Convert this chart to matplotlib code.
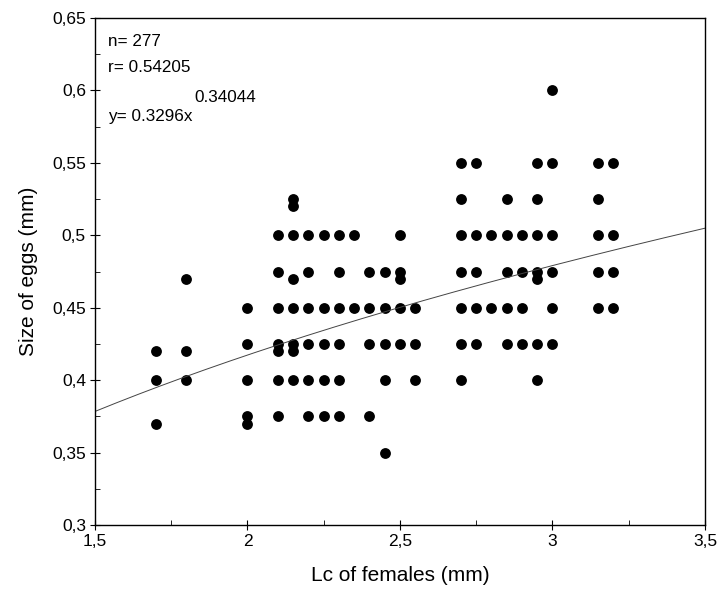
import matplotlib
matplotlib.use("Agg")
import matplotlib.pyplot as plt
import numpy as np
from matplotlib.ticker import FuncFormatter, MultipleLocator, AutoMinorLocator

plt.rcParams['font.family'] = ['Liberation Sans', 'DejaVu Sans']

# carapace length of females (mm) -> egg sizes observed (mm)
lc_females = [1.7, 1.8, 2.0, 2.1, 2.15, 2.2, 2.25, 2.3, 2.35, 2.4, 2.45, 2.5, 2.55,
              2.7, 2.75, 2.8, 2.85, 2.9, 2.95, 3.0, 3.15, 3.2]
egg_sizes = [
    [0.42, 0.40, 0.37],
    [0.47, 0.42, 0.40],
    [0.45, 0.425, 0.40, 0.375, 0.37],
    [0.50, 0.475, 0.45, 0.425, 0.42, 0.40, 0.375],
    [0.525, 0.52, 0.50, 0.47, 0.45, 0.425, 0.42, 0.40],
    [0.50, 0.475, 0.45, 0.425, 0.40, 0.375],
    [0.50, 0.45, 0.425, 0.40, 0.375],
    [0.50, 0.475, 0.45, 0.425, 0.40, 0.375],
    [0.50, 0.45],
    [0.475, 0.45, 0.425, 0.375],
    [0.475, 0.45, 0.425, 0.40, 0.35],
    [0.50, 0.475, 0.47, 0.45, 0.425],
    [0.45, 0.425, 0.40],
    [0.55, 0.525, 0.50, 0.475, 0.45, 0.425, 0.40],
    [0.55, 0.50, 0.475, 0.45, 0.425],
    [0.50, 0.45],
    [0.525, 0.50, 0.475, 0.45, 0.425],
    [0.50, 0.475, 0.45, 0.425],
    [0.55, 0.525, 0.50, 0.475, 0.47, 0.425, 0.40],
    [0.60, 0.55, 0.50, 0.475, 0.45, 0.425],
    [0.55, 0.525, 0.50, 0.475, 0.45],
    [0.55, 0.50, 0.475, 0.45],
]

# power fit y = a * x^b
fit_a = 0.3296
fit_b = 0.34044
n_obs = 277
r_value = 0.54205

xs = []
ys = []
for lc, sizes in zip(lc_females, egg_sizes):
    for s in sizes:
        xs.append(lc)
        ys.append(s)

fig = plt.figure(figsize=(7.19, 5.91), dpi=100)
ax = fig.add_axes([0.1321, 0.1117, 0.8484, 0.8578])

ax.plot(xs, ys, 'o', color='black', markersize=7.8, markeredgewidth=0)

xfit = np.linspace(1.5, 3.5, 200)
ax.plot(xfit, fit_a * xfit ** fit_b, color='#444444', linewidth=0.7)

ax.set_xlim(1.5, 3.5)
ax.set_ylim(0.3, 0.65)
ax.xaxis.set_major_locator(MultipleLocator(0.5))
ax.yaxis.set_major_locator(MultipleLocator(0.05))
ax.xaxis.set_minor_locator(AutoMinorLocator(2))
ax.yaxis.set_minor_locator(AutoMinorLocator(2))

def virgule(v, pos):
    s = ('%.2f' % v).rstrip('0').rstrip('.')
    return s.replace('.', ',')

ax.xaxis.set_major_formatter(FuncFormatter(virgule))
ax.yaxis.set_major_formatter(FuncFormatter(virgule))

ax.tick_params(which='major', direction='inout', length=7, width=0.8, labelsize=12.5, pad=3)
ax.tick_params(which='minor', direction='in', length=3.5, width=0.6)
for sp in ax.spines.values():
    sp.set_linewidth(1.0)

ax.set_xlabel('Lc of females (mm)', fontsize=15, labelpad=12)
ax.set_ylabel('Size of eggs (mm)', fontsize=15, labelpad=10)

# fit statistics, exponent written as raised text after the formula
ax.text(0.021, 0.953, 'n= %d' % n_obs, transform=ax.transAxes, fontsize=12.3, va='center')
ax.text(0.021, 0.903, 'r= %s' % r_value, transform=ax.transAxes, fontsize=12.3, va='center')
ax.text(0.021, 0.805, 'y= %sx' % fit_a, transform=ax.transAxes, fontsize=12.3, va='center')
ax.text(0.163, 0.843, '%s' % fit_b, transform=ax.transAxes, fontsize=12.3, va='center')

fig.savefig('out.png', dpi=100)
